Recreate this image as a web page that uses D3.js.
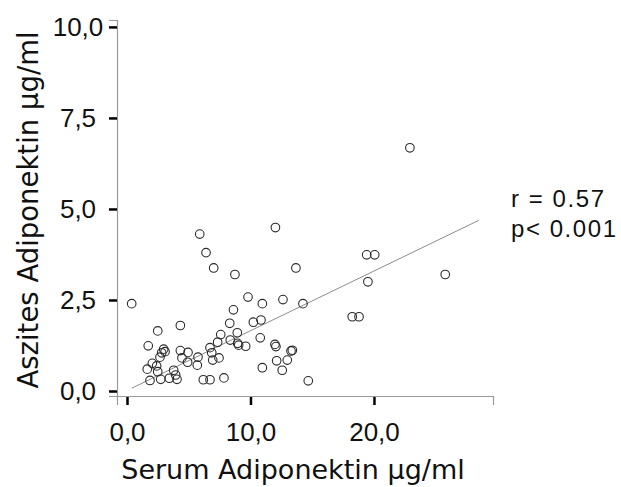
<!DOCTYPE html>
<html><head><meta charset="utf-8">
<script src="https://cdn.jsdelivr.net/npm/d3@7/dist/d3.min.js"></script>
<style>body{margin:0;background:#fff}svg{display:block}</style>
</head><body>
<svg id="chart" width="621" height="487"></svg>
<script>
// Data (Serum Adiponektin µg/ml, Aszites Adiponektin µg/ml)
const serum = [0.38,5.89,6.40,7.02,8.74,12.02,13.68,9.80,10.96,12.63,14.25,8.62,4.32,2.49,8.32,10.23,10.85,7.59,8.93,1.72,2.97,3.08,2.81,2.67,4.32,4.94,4.45,5.75,4.91,5.69,6.72,6.86,7.34,8.36,8.96,9.04,9.61,10.79,7.45,6.94,11.98,12.06,13.28,13.39,12.12,12.98,12.57,10.96,7.85,6.18,6.72,14.68,2.05,2.40,1.64,2.49,3.78,3.94,4.05,3.43,2.73,1.86,19.51,19.41,20.06,18.24,18.79,25.77,22.91];
const ascites = [2.40,4.31,3.80,3.38,3.20,4.49,3.38,2.58,2.40,2.51,2.40,2.23,1.80,1.65,1.86,1.89,1.95,1.55,1.60,1.24,1.15,1.08,1.05,0.93,1.11,1.06,0.91,0.93,0.79,0.71,1.19,1.05,1.34,1.40,1.31,1.26,1.23,1.46,0.91,0.85,1.28,1.22,1.10,1.12,0.83,0.85,0.57,0.64,0.36,0.31,0.31,0.28,0.76,0.69,0.60,0.53,0.57,0.44,0.32,0.35,0.32,0.29,3.00,3.74,3.74,2.04,2.04,3.20,6.68];
const fitX = [0.4, 28.5];
const fitY = [0.08, 4.69];
const xTicks = [0, 10, 20];
const yTicks = [0, 2.5, 5, 7.5, 10];
const xTitle = "Serum Adiponektin µg/ml";
const yTitle = "Aszites Adiponektin µg/ml";
const stats = ["r = 0.57", "p< 0.001"];

const svg = d3.select("#chart");
const x = d3.scaleLinear().domain([-0.81, 29.64]).range([117, 493]);
const y = d3.scaleLinear().domain([-0.137, 10.19]).range([396, 20]);
const fmt = v => d3.format(".1f")(v).replace(".", ",");
const arial = "'Liberation Sans', Arial, Helvetica, sans-serif";
const verdana = "'DejaVu Sans', Verdana, sans-serif";

// axes
const gx = svg.append("g").attr("transform", "translate(0,396)")
  .call(d3.axisBottom(x).tickValues(xTicks).tickSize(9).tickPadding(18).tickFormat(fmt));
const gy = svg.append("g").attr("transform", "translate(117,0)")
  .call(d3.axisLeft(y).tickValues(yTicks).tickSize(8).tickPadding(9).tickFormat(fmt));
[gx, gy].forEach(g => {
  g.attr("font-family", null);
  g.select(".domain").attr("stroke", "#9a9a9a").attr("stroke-width", 1.2);
  g.selectAll(".tick line").attr("stroke", "#000").attr("stroke-width", 2.5);
  g.selectAll(".tick text").style("font-family", arial)
    .style("font-size", "26px").attr("fill", "#111");
});
gx.selectAll(".tick line").attr("y1", 1);
gy.selectAll(".tick text").attr("text-anchor", "middle").attr("x", 78 - 117);

// regression line
svg.append("line")
  .attr("x1", x(fitX[0])).attr("y1", y(fitY[0]))
  .attr("x2", x(fitX[1])).attr("y2", y(fitY[1]))
  .attr("stroke", "#8c8c8c").attr("stroke-width", 1);

// points
svg.append("g").selectAll("circle").data(serum.map((s, i) => [s, ascites[i]]))
  .join("circle")
  .attr("cx", d => x(d[0])).attr("cy", d => y(d[1])).attr("r", 4.3)
  .attr("fill", "none").attr("stroke", "#2a2a2a").attr("stroke-width", 1.1);

// titles
svg.append("text").attr("x", 293).attr("y", 479).attr("text-anchor", "middle")
  .style("font-family", verdana).style("font-size", "27px")
  .attr("fill", "#111").text(xTitle);
svg.append("text").attr("transform", "translate(38,210) rotate(-90)").attr("text-anchor", "middle")
  .style("font-family", verdana).style("font-size", "27.5px")
  .attr("fill", "#111").text(yTitle);

// stats
svg.append("g").selectAll("text").data(stats).join("text")
  .attr("x", 511).attr("y", (d, i) => 207 + i * 30)
  .style("font-family", arial).style("font-size", "24px")
  .attr("fill", "#111").attr("textLength", (d, i) => i === 0 ? 93 : 105)
  .text(d => d);
</script>
</body></html>
